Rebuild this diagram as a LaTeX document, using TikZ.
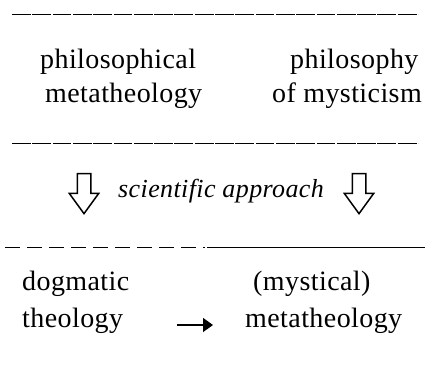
\documentclass[tikz,border=0pt]{standalone}
\usepackage{fontspec}
\setmainfont{Liberation Serif}
\usetikzlibrary{positioning,arrows.meta,shapes.arrows}

\begin{document}
\begin{tikzpicture}[x=1pt, y=-1pt,
		term/.style={font=\fontsize{28}{30}\selectfont\addfontfeatures{LetterSpace=1.5},
		             inner sep=0pt, anchor=base west},
		emrule/.style={line width=0.9pt, dash pattern=on 18.8pt off 1.5pt},
		hollow/.style={draw, line width=1.5pt, single arrow, shape border rotate=270,
		               minimum height=40pt, inner sep=6pt, single arrow head extend=8pt,
		               single arrow tip angle=72},
		pointer/.style={-{Triangle[length=10pt,width=14pt]}, line width=1.4pt}]
		\useasboundingbox (0,0) rectangle (427,381);
		\draw[emrule] (12,14) -- (418,14);
		\node[term] (philA) at (40,68) {philosophical};
		\node[term] (metaA) at (45,102) {metatheology};
		\node[term] (philB) at (290,68) {philosophy};
		\node[term] (myst) at (272,102) {of mysticism};
		\draw[emrule] (12,143) -- (418,143);
		\foreach \x/\nm in {84/downL, 359/downR}
			\node[hollow] (\nm) at (\x,189) {};
		\node[term, font=\itshape\fontsize{26}{30}\selectfont\addfontfeatures{LetterSpace=1.5}] (sci) at (118,197) {scientific approach};
		\draw[line width=0.9pt, dash pattern=on 15pt off 7pt] (5,247) -- (205,247);
		\draw[line width=0.9pt] (207,247) -- (425,247);
		\node[term] (dog) at (22,290) {dogmatic};
		\node[term] (theo) at (22,327) {theology};
		\node[term] (myst2) at (253,290) {(mystical)};
		\node[term] (metaB) at (245,327) {metatheology};
		\coordinate (tail) at (177,325);
		\coordinate (tip) at (213,325);
		\draw[pointer] (tail) -- (tip);
	\end{tikzpicture}
\end{document}
